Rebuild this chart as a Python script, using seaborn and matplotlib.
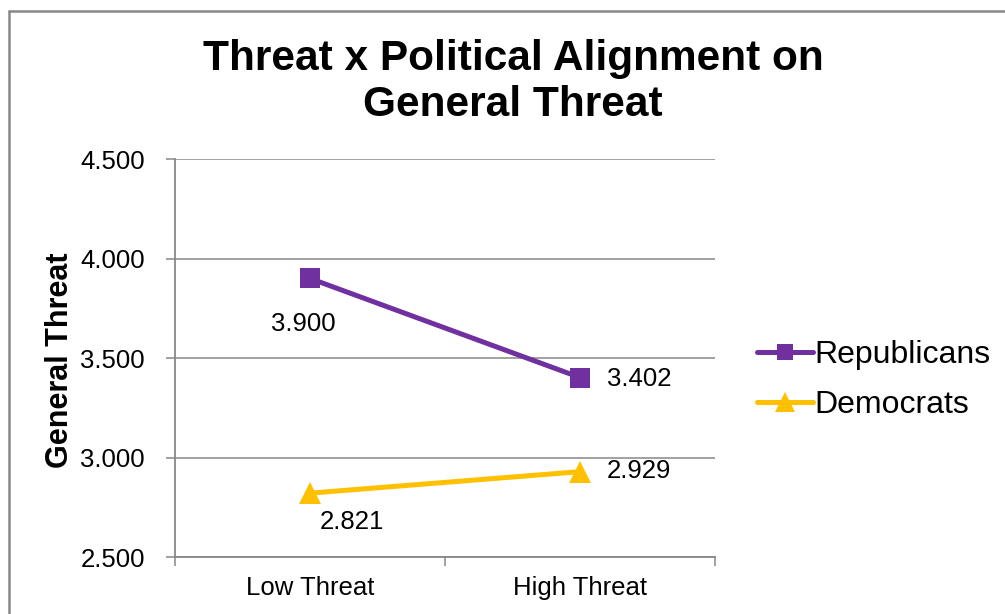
import matplotlib
matplotlib.use("Agg")
import matplotlib.pyplot as plt
import seaborn as sns
import pandas as pd
from matplotlib.lines import Line2D
from matplotlib.ticker import FormatStrFormatter, FixedLocator

# Cell means for the threat manipulation by political alignment
conditions = ["Low Threat", "High Threat"]
groups = ["Republicans", "Democrats"]
republicans = [3.900, 3.402]
democrats = [2.821, 2.929]
y_ticks = [2.5, 3.0, 3.5, 4.0, 4.5]

colors = {"Republicans": "#7030A0", "Democrats": "#FFC000"}
markers = {"Republicans": "s", "Democrats": "^"}
grid_gray = "#888888"

sns.set_theme(style="white")
plt.rcParams["font.family"] = ["Liberation Sans", "DejaVu Sans"]
plt.rcParams["text.color"] = "black"

df = pd.DataFrame({
    "Condition": conditions * 2,
    "Score": republicans + democrats,
    "Group": [groups[0]] * 2 + [groups[1]] * 2,
})

fig = plt.figure(figsize=(10.05, 6.14), dpi=100)
ax = fig.add_axes([0.1741, 0.0928, 0.5373, 0.6482])

sns.lineplot(data=df, x="Condition", y="Score", hue="Group", style="Group",
             markers=markers, dashes=False, palette=colors, linewidth=3.6,
             markersize=14, markeredgewidth=0, sort=False, legend=False, ax=ax)
for line in ax.lines:
    if line.get_marker() == "^":
        line.set_markersize(16.5)

# axes, grid and ticks
ax.set_xlim(-0.5, 1.5)
ax.set_ylim(y_ticks[0], y_ticks[-1])
ax.set_yticks(y_ticks)
ax.yaxis.set_major_formatter(FormatStrFormatter("%.3f"))
ax.set_xticks(range(len(conditions)))
ax.set_xticklabels(conditions)
ax.xaxis.set_minor_locator(FixedLocator([-0.5, 0.5, 1.5]))
ax.tick_params(axis="x", which="major", length=0, pad=14, labelsize=18.5, labelcolor="black")
ax.tick_params(axis="x", which="minor", bottom=True, length=6.5, width=1.1, color=grid_gray)
ax.tick_params(axis="y", left=True, length=6.5, width=1.1, color=grid_gray, pad=15,
               labelsize=18.5, labelcolor="black")
ax.yaxis.grid(True, color=grid_gray, linewidth=1.1)
ax.set_axisbelow(True)
for side in ["top", "right"]:
    ax.spines[side].set_visible(False)
for side in ["left", "bottom"]:
    ax.spines[side].set_color(grid_gray)
    ax.spines[side].set_linewidth(1.3)
ax.set_xlabel("")
ax.set_ylabel("")

# value labels
label_offsets = {
    ("Republicans", 0): ((-7, -46), "center"),
    ("Republicans", 1): ((27, -1), "left"),
    ("Democrats", 0): ((42, -29), "center"),
    ("Democrats", 1): ((27, 1), "left"),
}
for grp, vals in zip(groups, [republicans, democrats]):
    for i, v in enumerate(vals):
        (dx, dy), ha = label_offsets[(grp, i)]
        ax.annotate(f"{v:.3f}", (i, v), xytext=(dx, dy), textcoords="offset pixels",
                    ha=ha, va="center", fontsize=18.5, color="black")

# title and axis title
fig.text(0.5104, 1 - 70 / 614, "Threat x Political Alignment on", ha="center",
         va="baseline", fontsize=30.5, fontweight="bold", color="black")
fig.text(0.5104, 1 - 116 / 614, "General Threat", ha="center",
         va="baseline", fontsize=30.5, fontweight="bold", color="black")
fig.text(60 / 1005, 1 - 360 / 614, "General Threat", rotation=90, ha="center",
         va="center", fontsize=22, fontweight="bold", color="black")

# legend
handles = [Line2D([], [], color=colors[g], marker=markers[g], linewidth=3.6,
                  markersize=12 if g == "Republicans" else 14, markeredgewidth=0)
           for g in groups]
leg = fig.legend(handles, groups, loc="center left",
                 bbox_to_anchor=(757 / 1005, 1 - 380 / 614), frameon=False,
                 fontsize=23, handlelength=1.75, handletextpad=0.05,
                 labelspacing=0.62, borderpad=0, borderaxespad=0,
                 labelcolor="black")

# chart area border
fig.add_artist(Line2D([8.5 / 1005, 1.0], [1 - 10.5 / 614] * 2, color=grid_gray,
                      linewidth=1.8, transform=fig.transFigure))
fig.add_artist(Line2D([8.5 / 1005] * 2, [0.0, 1 - 10.5 / 614], color=grid_gray,
                      linewidth=1.8, transform=fig.transFigure))

fig.savefig("out.png", dpi=100, facecolor="white")
